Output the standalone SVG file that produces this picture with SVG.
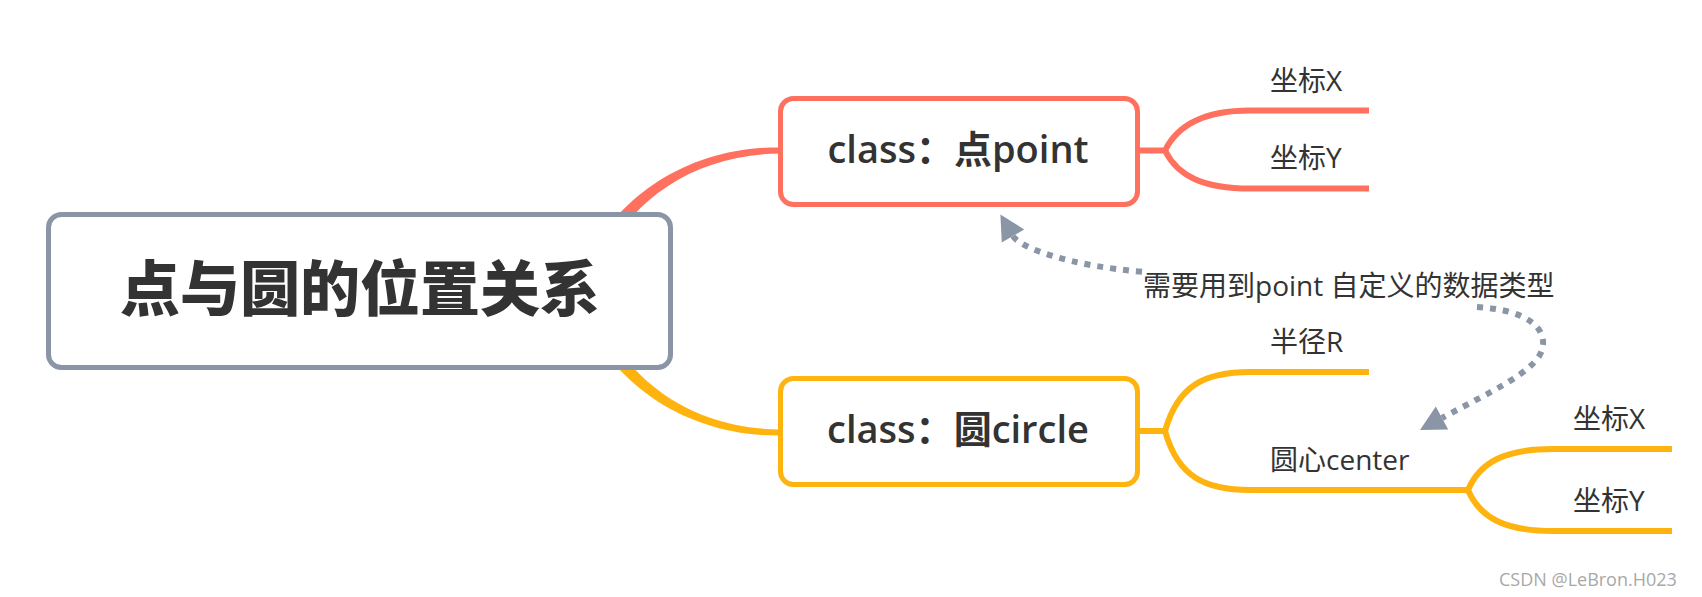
<svg xmlns="http://www.w3.org/2000/svg" width="1702" height="597" viewBox="0 0 1702 597">
<style>
.t{font-family:"Open Sans","Noto Sans CJK SC",sans-serif;fill:#333333}
.root{font-family:"Noto Sans CJK SC",sans-serif;font-weight:900;font-size:60px;fill:#333333}
.main{font-size:38px;font-weight:600}
.cj{font-family:"Noto Sans CJK SC",sans-serif;font-weight:700}
.sub{font-size:28px}
.coral{stroke:#FF705E}
.amber{stroke:#FFB30F}
.br{fill:none;stroke-width:6}
.box{fill:#FFFFFF;stroke-width:5}
.rel{fill:none;stroke:#8A95A6;stroke-width:6;stroke-dasharray:6 7}
</style>
<defs>
<marker id="arr" markerUnits="userSpaceOnUse" markerWidth="26" markerHeight="26" viewBox="0 -13 26 26" refX="0" refY="0" orient="auto-start-reverse" overflow="visible">
<path d="M0,-13 L25,0 L0,13 Z" fill="#8A95A6"/>
</marker>
</defs>
<rect width="1702" height="597" fill="#FFFFFF"/>
<g id="connectors">
<path d="M583 270 C613 198 688 146.5 780 147.5 L780 153.5 C692 154.5 627 202 599 270 Z" fill="#FF705E"/>
<path d="M583 313 C613 385 688 436.5 780 435.5 L780 429.5 C692 428.5 627 381 599 313 Z" fill="#FFB30F"/>
<path class="br coral" d="M1138 150.5 L1165 150.5 C1178 124 1205 110.5 1250 110.5 L1369 110.5"/>
<path class="br coral" d="M1165 150.5 C1178 177 1205 188.5 1250 188.5 L1369 188.5"/>
<path class="br amber" d="M1138 431 L1165 431 C1178 385 1205 372 1250 372 L1369 372"/>
<path class="br amber" d="M1165 431 C1178 477 1205 490 1250 490 L1470 490"/>
<path class="br amber" d="M1468 490 C1480 462 1505 449 1553 449 L1672 449"/>
<path class="br amber" d="M1468 490 C1480 518 1505 531 1553 531 L1672 531"/>
<path class="rel" d="M1013 236 C1020 248 1070 266 1145 272 M1477 307 C1530 310 1548 330 1542 350 C1535 372 1490 392 1442 418" marker-start="url(#arr)" marker-end="url(#arr)"/>
<text class="t sub" x="1143" y="296">需要用到point 自定义的数据类型</text>
</g>
<g id="root">
<rect class="box" x="48.5" y="214.5" width="622" height="153" rx="13" stroke="#8A95A6"/>
<text class="root" x="360" y="311" text-anchor="middle">点与圆的位置关系</text>
</g>
<g id="point">
<rect class="box coral" x="780.5" y="98.5" width="357" height="106" rx="13"/>
<text class="t main" x="958" y="163" text-anchor="middle">class：<tspan class="cj">点</tspan>point</text>
</g>
<g id="circle">
<rect class="box amber" x="780.5" y="378.5" width="357" height="106" rx="13"/>
<text class="t main" x="958" y="443" text-anchor="middle">class：<tspan class="cj">圆</tspan>circle</text>
</g>
<g id="point-x"><text class="t sub" x="1270" y="91">坐标X</text></g>
<g id="point-y"><text class="t sub" x="1270" y="168">坐标Y</text></g>
<g id="radius"><text class="t sub" x="1270" y="352">半径R</text></g>
<g id="center"><text class="t sub" x="1270" y="470">圆心center</text></g>
<g id="center-x"><text class="t sub" x="1573" y="429">坐标X</text></g>
<g id="center-y"><text class="t sub" x="1573" y="511">坐标Y</text></g>
<text x="1499" y="586" font-family="'Open Sans','Noto Sans',sans-serif" font-size="18" fill="#A8A8A8">CSDN @LeBron.H023</text>
</svg>
